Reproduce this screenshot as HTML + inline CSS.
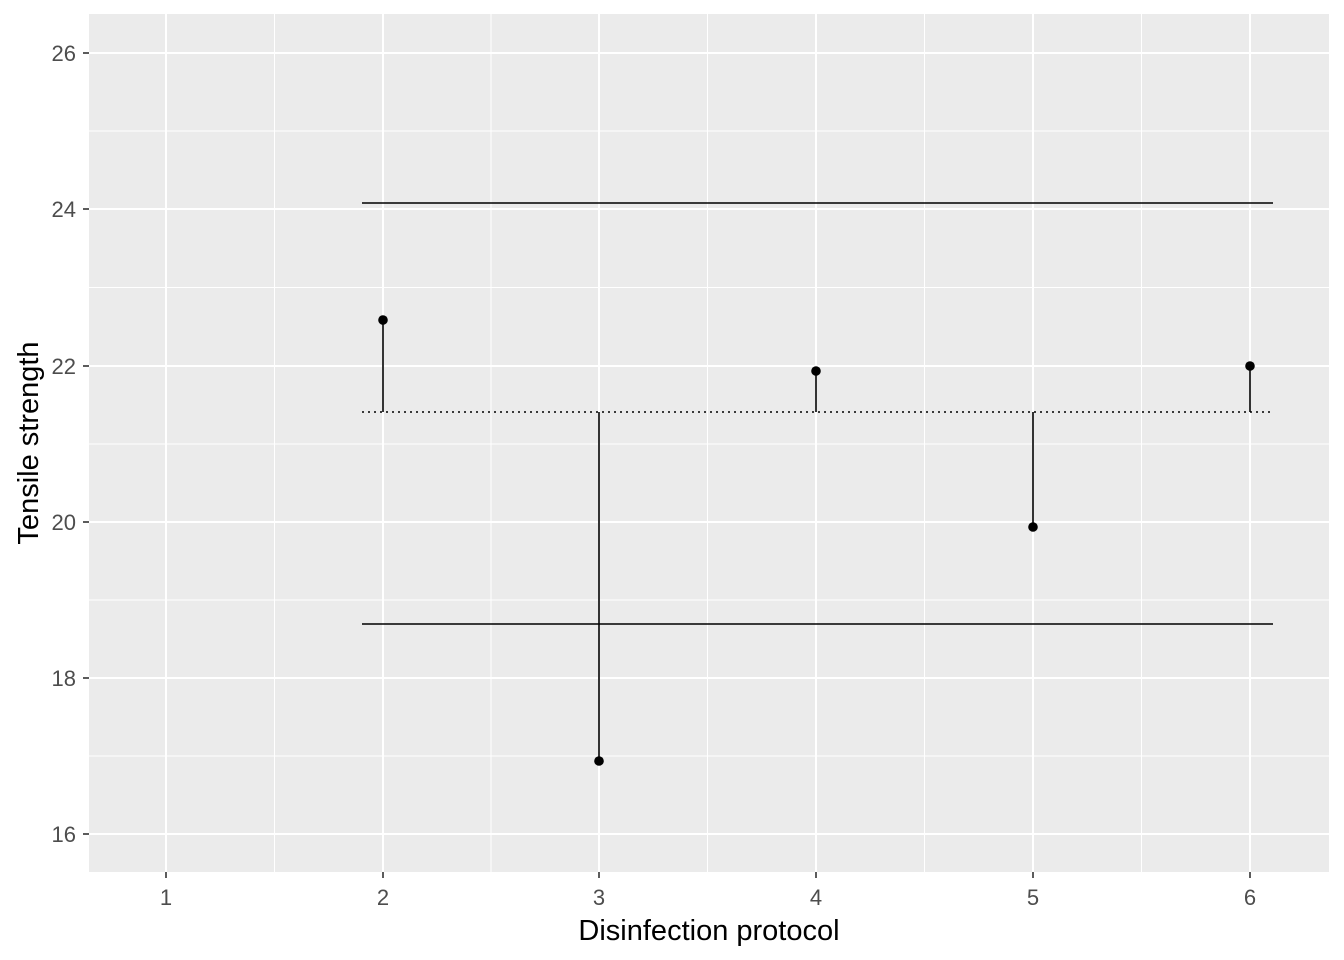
<!DOCTYPE html>
<html><head><meta charset="utf-8"><style>
body{margin:0;background:#fff}
svg{display:block}
text{font-family:"Liberation Sans",Arial,sans-serif}
</style></head><body>
<svg width="1344" height="960" viewBox="0 0 1344 960">
<rect x="89" y="14" width="1240" height="858" fill="#EBEBEB"/>
<g stroke="#fff" stroke-width="1">
<line x1="89" x2="1329" y1="131" y2="131"/>
<line x1="89" x2="1329" y1="287.5" y2="287.5"/>
<line x1="89" x2="1329" y1="444" y2="444"/>
<line x1="89" x2="1329" y1="600" y2="600"/>
<line x1="89" x2="1329" y1="756" y2="756"/>
<line y1="14" y2="872" x1="274.5" x2="274.5"/>
<line y1="14" y2="872" x1="491" x2="491"/>
<line y1="14" y2="872" x1="707.5" x2="707.5"/>
<line y1="14" y2="872" x1="924.5" x2="924.5"/>
<line y1="14" y2="872" x1="1141.5" x2="1141.5"/>
</g>
<g stroke="#fff" stroke-width="2">
<line x1="89" x2="1329" y1="53" y2="53"/>
<line x1="89" x2="1329" y1="209" y2="209"/>
<line x1="89" x2="1329" y1="366" y2="366"/>
<line x1="89" x2="1329" y1="522" y2="522"/>
<line x1="89" x2="1329" y1="678" y2="678"/>
<line x1="89" x2="1329" y1="834" y2="834"/>
<line y1="14" y2="872" x1="166" x2="166"/>
<line y1="14" y2="872" x1="383" x2="383"/>
<line y1="14" y2="872" x1="599" x2="599"/>
<line y1="14" y2="872" x1="816" x2="816"/>
<line y1="14" y2="872" x1="1033" x2="1033"/>
<line y1="14" y2="872" x1="1250" x2="1250"/>
</g>
<g stroke="#000" stroke-width="1.6">
<line x1="362" x2="1273" y1="203" y2="203"/>
<line x1="362" x2="1273" y1="624" y2="624"/>
<line x1="362" x2="1273" y1="412" y2="412" stroke-dasharray="2,4"/>
<line x1="383" x2="383" y1="412" y2="320"/>
<line x1="599" x2="599" y1="412" y2="761"/>
<line x1="816" x2="816" y1="412" y2="371"/>
<line x1="1033" x2="1033" y1="412" y2="527"/>
<line x1="1250" x2="1250" y1="412" y2="366"/>
</g>
<g fill="#000">
<circle cx="383" cy="320" r="4.8"/>
<circle cx="599" cy="761" r="4.8"/>
<circle cx="816" cy="371" r="4.8"/>
<circle cx="1033" cy="527" r="4.8"/>
<circle cx="1250" cy="366" r="4.8"/>
</g>
<g stroke="#333" stroke-width="1.6">
<line x1="83" x2="89" y1="53" y2="53"/><line x1="83" x2="89" y1="209" y2="209"/>
<line x1="83" x2="89" y1="366" y2="366"/><line x1="83" x2="89" y1="522" y2="522"/>
<line x1="83" x2="89" y1="678" y2="678"/><line x1="83" x2="89" y1="834" y2="834"/>
<line y1="872" y2="878" x1="166" x2="166"/><line y1="872" y2="878" x1="383" x2="383"/>
<line y1="872" y2="878" x1="599" x2="599"/><line y1="872" y2="878" x1="816" x2="816"/>
<line y1="872" y2="878" x1="1033" x2="1033"/><line y1="872" y2="878" x1="1250" x2="1250"/>
</g>
<g fill="#4D4D4D" font-size="22" text-anchor="end">
<text x="76" y="61">26</text><text x="76" y="217">24</text><text x="76" y="374">22</text>
<text x="76" y="530">20</text><text x="76" y="686">18</text><text x="76" y="842">16</text>
</g>
<g fill="#4D4D4D" font-size="22" text-anchor="middle">
<text x="166" y="905">1</text><text x="383" y="905">2</text><text x="599" y="905">3</text>
<text x="816" y="905">4</text><text x="1033" y="905">5</text><text x="1250" y="905">6</text>
</g>
<text x="709" y="940" font-size="29" text-anchor="middle" fill="#000">Disinfection protocol</text>
<text transform="translate(38,443) rotate(-90)" font-size="29" text-anchor="middle" fill="#000">Tensile strength</text>
</svg>
</body></html>
